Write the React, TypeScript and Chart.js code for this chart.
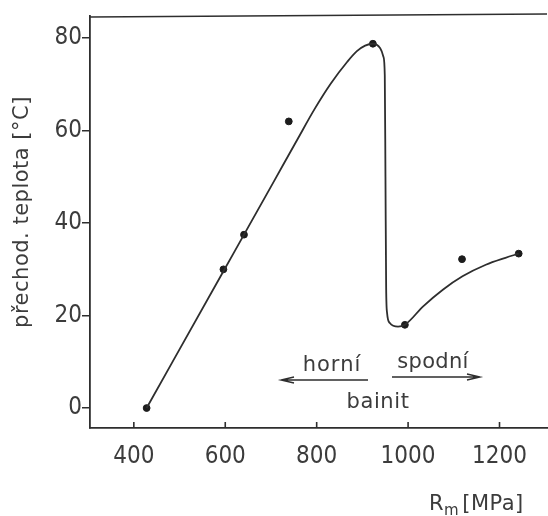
import React, { useEffect, useRef } from "react";
import { Chart, registerables } from "chart.js";

Chart.register(...registerables);

// measured points
const rmValues = [428, 596, 641, 739, 923, 993, 1118, 1242];
const tempValues = [0, 30, 37.5, 62, 78.8, 18, 32.2, 33.4];

// hand-drawn trend curve
const curveRm = [428, 596, 641, 708, 759, 795, 831, 867, 888, 906, 923, 939, 946, 949, 950.5, 952, 954, 960, 978, 993, 1033, 1076, 1119, 1170, 1213, 1242];
const curveTemp = [0, 29.6, 37.5, 49.3, 58.3, 64.6, 70.2, 74.9, 77.2, 78.4, 78.8, 77.8, 76.0, 72, 50, 26, 20.6, 18.4, 17.6, 18.0, 22.0, 25.6, 28.5, 31.0, 32.5, 33.4];

const xTicks = [400, 600, 800, 1000, 1200];
const yTicks = [0, 20, 40, 60, 80];

const yTitle = "přechod. teplota [°C]";
const xTitleMain = "R";
const xTitleSub = "m";
const xTitleUnit = "[MPa]";
const leftLabel = "horní";
const rightLabel = "spodní";
const centerLabel = "bainit";

const INK = "#2e2e2e";
const TEXT = "#3c3c3c";
const TEXT_FONT = '"DejaVu Sans"';
const TICK_FONT = '"DejaVu Sans Condensed", "Liberation Sans Narrow", Roboto';

const decorPlugin = {
  id: "decor",
  afterDraw(chart: any) {
    const { ctx, chartArea, scales } = chart;
    const xs = scales.x;
    ctx.save();
    ctx.strokeStyle = INK;
    ctx.lineWidth = 1.6;
    // top frame
    ctx.beginPath();
    ctx.moveTo(chartArea.left, chartArea.top + 1);
    ctx.lineTo(chartArea.right, chartArea.top - 2);
    ctx.stroke();
    // inward x ticks
    xTicks.forEach((v) => {
      const px = xs.getPixelForValue(v);
      ctx.beginPath();
      ctx.moveTo(px, chartArea.bottom);
      ctx.lineTo(px, chartArea.bottom - 6);
      ctx.stroke();
    });
    ctx.fillStyle = TEXT;
    ctx.textBaseline = "alphabetic";
    (ctx as any).letterSpacing = "0.5px";
    // y title
    ctx.font = `21px ${TEXT_FONT}`;
    ctx.textAlign = "center";
    ctx.save();
    ctx.translate(28, 212);
    ctx.rotate(-Math.PI / 2);
    ctx.fillText(yTitle, 0, 0);
    ctx.restore();
    // x title with subscript
    ctx.textAlign = "left";
    let x = 429;
    ctx.font = `21px ${TEXT_FONT}`;
    ctx.fillText(xTitleMain, x, 510);
    x += ctx.measureText(xTitleMain).width;
    ctx.font = `15px ${TEXT_FONT}`;
    ctx.fillText(xTitleSub, x, 515);
    x += ctx.measureText(xTitleSub).width + 3;
    ctx.font = `21px ${TEXT_FONT}`;
    ctx.fillText(xTitleUnit, x, 510);
    // annotations
    ctx.textAlign = "center";
    ctx.font = `21px ${TEXT_FONT}`;
    (ctx as any).letterSpacing = "1px";
    ctx.fillText(leftLabel, 332, 371);
    (ctx as any).letterSpacing = "0.3px";
    ctx.fillText(rightLabel, 433, 368);
    (ctx as any).letterSpacing = "0.6px";
    ctx.fillText(centerLabel, 378, 408);
    // arrows
    ctx.lineWidth = 1.4;
    ctx.beginPath();
    ctx.moveTo(368, 380);
    ctx.lineTo(281, 380);
    ctx.moveTo(294, 377);
    ctx.lineTo(281, 380);
    ctx.lineTo(294, 383);
    ctx.moveTo(392, 377);
    ctx.lineTo(480, 377);
    ctx.moveTo(467, 374);
    ctx.lineTo(480, 377);
    ctx.lineTo(467, 380);
    ctx.stroke();
    ctx.restore();
  },
};

export default function App() {
  const ref = useRef<HTMLCanvasElement | null>(null);
  useEffect(() => {
    if (!ref.current) return;
    const chart = new Chart(ref.current, {
      type: "scatter",
      data: {
        datasets: [
          {
            type: "line",
            data: curveRm.map((v, i) => ({ x: v, y: curveTemp[i] })),
            borderColor: INK,
            borderWidth: 1.8,
            pointRadius: 0,
            cubicInterpolationMode: "monotone",
            fill: false,
          } as any,
          {
            data: rmValues.map((v, i) => ({ x: v, y: tempValues[i] })),
            backgroundColor: "#1c1c1c",
            borderColor: "#1c1c1c",
            pointRadius: 3.4,
          },
        ],
      },
      plugins: [decorPlugin],
      options: {
        responsive: false,
        animation: false,
        devicePixelRatio: 1,
        layout: { padding: { top: 16, left: 0, right: 0, bottom: 0 } },
        plugins: { legend: { display: false }, tooltip: { enabled: false } },
        scales: {
          x: {
            type: "linear",
            min: 304.1,
            max: 1303.9,
            afterBuildTicks: (s: any) => {
              s.ticks = xTicks.map((v) => ({ value: v }));
            },
            afterFit: (s: any) => {
              s.height = 88;
            },
            grid: { display: false },
            border: { display: true, color: INK, width: 1.8 },
            ticks: {
              color: TEXT,
              padding: 6,
              maxRotation: 0,
              callback: (v: any) => String(v),
              font: { family: TICK_FONT, size: 24, weight: "300" as any, style: "normal condensed" as any },
            },
          },
          y: {
            type: "linear",
            min: -4.32,
            max: 84.8,
            afterBuildTicks: (s: any) => {
              s.ticks = yTicks.map((v) => ({ value: v }));
            },
            afterFit: (s: any) => {
              s.width = 90;
            },
            grid: { display: true, drawOnChartArea: false, drawTicks: true, tickLength: 8, color: INK, lineWidth: 1.5 },
            border: { display: true, color: INK, width: 1.8 },
            ticks: {
              color: TEXT,
              padding: 0,
              callback: (v: any) => String(v),
              font: { family: TICK_FONT, size: 24, weight: "300" as any, style: "normal condensed" as any },
            },
          },
        },
      },
    });
    return () => chart.destroy();
  }, []);
  return (
    <div style={{ position: "absolute", left: 0, top: 0, width: 548, height: 516, overflow: "hidden", background: "#fff" }}>
      <canvas ref={ref} width={552} height={516} style={{ width: 552, height: 516, display: "block" }} />
    </div>
  );
}
